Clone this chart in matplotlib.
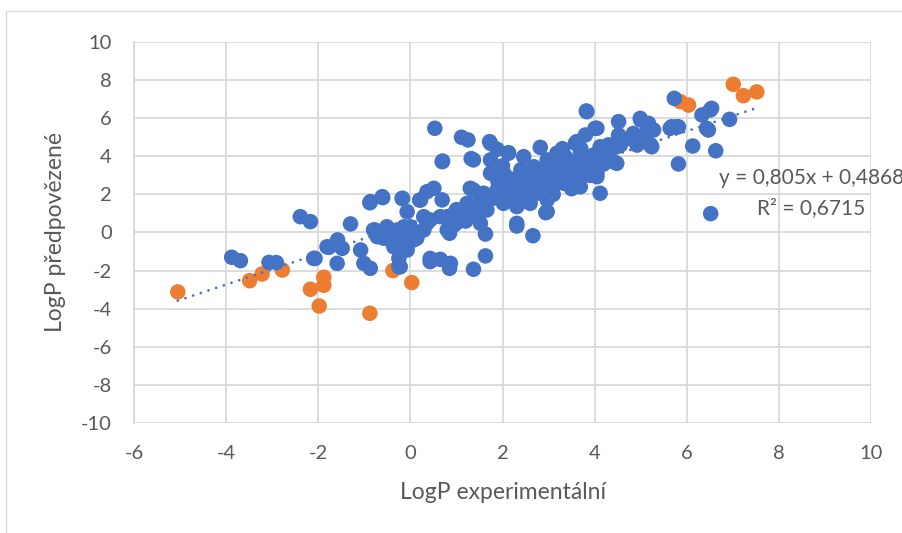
import matplotlib.pyplot as plt
from matplotlib.patches import Rectangle

# Blue series (LogP experimental vs. predicted)
blue_x = [
    -3.88, -3.69, -3.07, -2.91, -2.39, -2.17, -2.07, -2.10, -1.81, -1.77,
    -1.59, -1.58, -1.59, -1.48, -1.30, -1.08, -1.01, -0.87, -0.88, -0.61,
    -0.60, -0.87, -0.80, -0.77, -0.76, -0.72, -0.58, -0.51, -0.43, -0.36,
    -0.29, -0.29, -0.25, -0.25, -0.22, -0.18, -0.17, -0.14, -0.14, -0.14,
    -0.07, -0.07, -0.07, 0.00, 0.00, 0.07, 0.14, 0.20, 0.22, 0.29,
    0.29, 0.36, 0.36, 0.43, 0.43, 0.43, 0.51, 0.53, 0.65, 0.65,
    0.69, 0.69, 0.70, 0.80, 0.80, 0.85, 0.85, 0.87, 1.08, 1.11,
    1.23, 1.25, 1.30, 1.30, 1.32, 1.37, 1.37, 1.37, 1.37, 1.45,
    1.52, 1.59, 1.63, 1.63, 1.66, 1.72, 1.74, 1.74, 1.74, 1.88,
    1.88, 2.02, 2.02, 2.05, 2.13, 2.13, 2.17, 2.31, 2.31, 2.31,
    2.46, 2.46, 2.53, 2.60, 2.66, 2.68, 2.75, 2.82, 2.82, 2.94,
    2.97, 2.97, 2.97, 3.10, 3.18, 3.33, 3.33, 3.33, 3.36, 3.40,
    3.58, 3.61, 3.61, 3.69, 3.69, 3.69, 3.80, 3.82, 3.83, 3.83,
    3.98, 4.01, 4.05, 4.05, 4.05, 4.12, 4.12, 4.27, 4.41, 4.48,
    4.48, 4.52, 4.52, 4.52, 4.56, 4.77, 4.84, 4.92, 4.99, 4.99,
    5.00, 5.13, 5.17, 5.21, 5.22, 5.24, 5.28, 5.64, 5.67, 5.73,
    5.78, 5.82, 5.82, 6.13, 6.33, 6.43, 6.47, 6.51, 6.52, 6.54,
    6.63, 6.93, 2.20, 2.50, 2.90, 3.00, 3.20, 2.60, 1.90, 1.00,
    1.20, 0.95, 2.40, 3.50, 3.90, 2.70, 2.20, 2.40, 2.60, 2.80,
    3.00, 3.10, 3.20, 3.40, 3.50, 3.60, 3.80, 3.90, 4.20, 4.30,
    2.00, 1.80, 2.10, 2.40, 2.60, 2.90, 3.10, 3.50, 1.50, 1.20,
    0.90, 1.00, 1.40, 3.70, 4.00, 4.30, 3.30, 2.00,
]
blue_y = [
    -1.30, -1.48, -1.57, -1.58, 0.83, 0.57, -1.36, -1.36, -0.75, -0.78,
    -0.48, -0.39, -1.62, -0.83, 0.45, -0.92, -1.62, -1.88, 1.56, 1.88,
    1.83, 1.62, 0.13, 0.13, 0.10, -0.22, -0.30, 0.30, -0.39, -0.75,
    0.13, -0.04, -1.36, -1.80, -1.80, 1.79, 1.79, 0.30, -0.39, -0.57,
    1.09, -0.04, -0.92, -0.04, 0.30, -0.39, -0.30, 1.70, 1.71, 0.83,
    0.13, 2.14, 0.48, 0.66, -1.36, -1.53, 2.32, 5.47, 0.83, -1.41,
    3.72, 1.71, 3.75, 0.83, 0.13, -0.04, -1.88, -1.62, 1.01, 5.00,
    1.53, 4.86, 2.32, 1.01, 3.88, 2.23, 1.36, -1.93, 3.81, 0.83,
    0.48, 2.06, -0.08, -1.23, 1.18, 4.77, 4.68, 3.81, 3.11, 4.37,
    2.23, 3.11, 1.53, 3.02, 4.19, 4.16, 2.06, 1.36, 0.48, 0.34,
    3.98, 2.23, 2.93, 1.53, -0.17, 3.45, 2.06, 4.47, 2.76, 1.04,
    3.81, 1.71, 1.09, 2.40, 4.16, 3.81, 2.58, 3.28, 3.98, 2.76,
    4.68, 4.77, 3.45, 4.16, 2.93, 2.40, 5.12, 6.38, 6.34, 3.28,
    4.07, 5.47, 3.11, 2.93, 5.47, 4.50, 2.06, 3.81, 3.72, 4.50,
    3.63, 5.82, 5.03, 5.12, 4.59, 4.94, 5.20, 4.59, 5.99, 4.94,
    5.91, 5.29, 5.73, 4.59, 4.59, 4.50, 5.38, 5.47, 5.55, 7.04,
    5.55, 5.55, 3.60, 4.54, 6.17, 5.47, 5.38, 6.43, 0.99, 6.52,
    4.29, 5.94, 2.40, 2.70, 3.00, 2.50, 3.00, 2.00, 2.70, 1.20,
    0.60, 0.40, 1.90, 3.20, 3.60, 3.20, 2.80, 3.30, 3.00, 3.30,
    3.40, 2.90, 3.60, 3.10, 3.70, 2.70, 3.90, 3.00, 3.60, 4.10,
    2.50, 1.80, 1.80, 1.60, 2.30, 2.50, 2.00, 2.30, 1.60, 1.20,
    0.90, 0.50, 0.90, 4.40, 4.00, 4.60, 4.40, 3.50,
]

# Orange series
orange_x = [-5.05, -3.49, -3.22, -2.78, -2.17, -1.88, -1.88, -1.98, -0.88,
            -0.38, 0.03, 5.86, 6.04, 7.01, 7.23, 7.52]
orange_y = [-3.12, -2.53, -2.18, -1.97, -2.98, -2.35, -2.77, -3.86, -4.24,
            -2.00, -2.63, 6.87, 6.69, 7.78, 7.18, 7.38]

# Linear trendline
slope = 0.805
intercept = 0.4868
r_squared = "0,6715"
trend_x = [min(blue_x + orange_x), max(blue_x + orange_x)]

x_ticks = list(range(-6, 11, 2))
y_ticks = list(range(-10, 11, 2))

BLUE = "#4472C4"
ORANGE = "#ED7D31"
GRID = "#D9D9D9"
TEXT = "#595959"

plt.rcParams["font.family"] = ["Lato", "DejaVu Sans"]
plt.rcParams["axes.unicode_minus"] = False

fig = plt.figure(figsize=(9.02, 5.33), dpi=100)
ax = fig.add_axes([0.1486, 0.2064, 0.817, 0.7148])

# Chart area border (cropped on right and bottom)
fig.patches.append(
    Rectangle((6 / 902, -0.1), 1.2, 1 - 11 / 533 + 0.1,
              transform=fig.transFigure, fill=False,
              edgecolor=GRID, linewidth=1.0)
)

ax.scatter(orange_x, orange_y, s=125, color=ORANGE, edgecolors="none",
           zorder=3)
ax.scatter(blue_x, blue_y, s=125, color=BLUE, edgecolors="none", zorder=4)

trend_y = [slope * v + intercept for v in trend_x]
line, = ax.plot(trend_x, trend_y, color=BLUE, linewidth=2.0, zorder=5,
                dash_capstyle="round")
line.set_dashes([0.01, 2.9])

ax.set_xlim(-6, 10)
ax.set_ylim(-10, 10)
ax.set_xticks(x_ticks)
ax.set_yticks(y_ticks)
ax.grid(True, color=GRID, linewidth=1.3, zorder=0)
ax.set_axisbelow(True)
for side in ["top", "right", "bottom"]:
    ax.spines[side].set_visible(False)
ax.spines["left"].set_color(GRID)
ax.spines["left"].set_linewidth(1.3)
ax.tick_params(length=0, labelsize=14.5, labelcolor=TEXT, pad=16)
ax.tick_params(axis="y", pad=16)

ax.set_xlabel("LogP experimentální", fontsize=16.5, color=TEXT, labelpad=14)
ax.set_ylabel("LogP předpovězené", fontsize=16.5, color=TEXT, labelpad=11)

ax.text(8.7, 2.86, f"y = {slope:.3f}x + {intercept:.4f}".replace(".", ","),
        fontsize=15, color=TEXT, ha="center", va="center", clip_on=False)
ax.text(8.7, 1.29, f"R² = {r_squared}", fontsize=15, color=TEXT,
        ha="center", va="center", clip_on=False)

fig.savefig("out.png", dpi=100)
